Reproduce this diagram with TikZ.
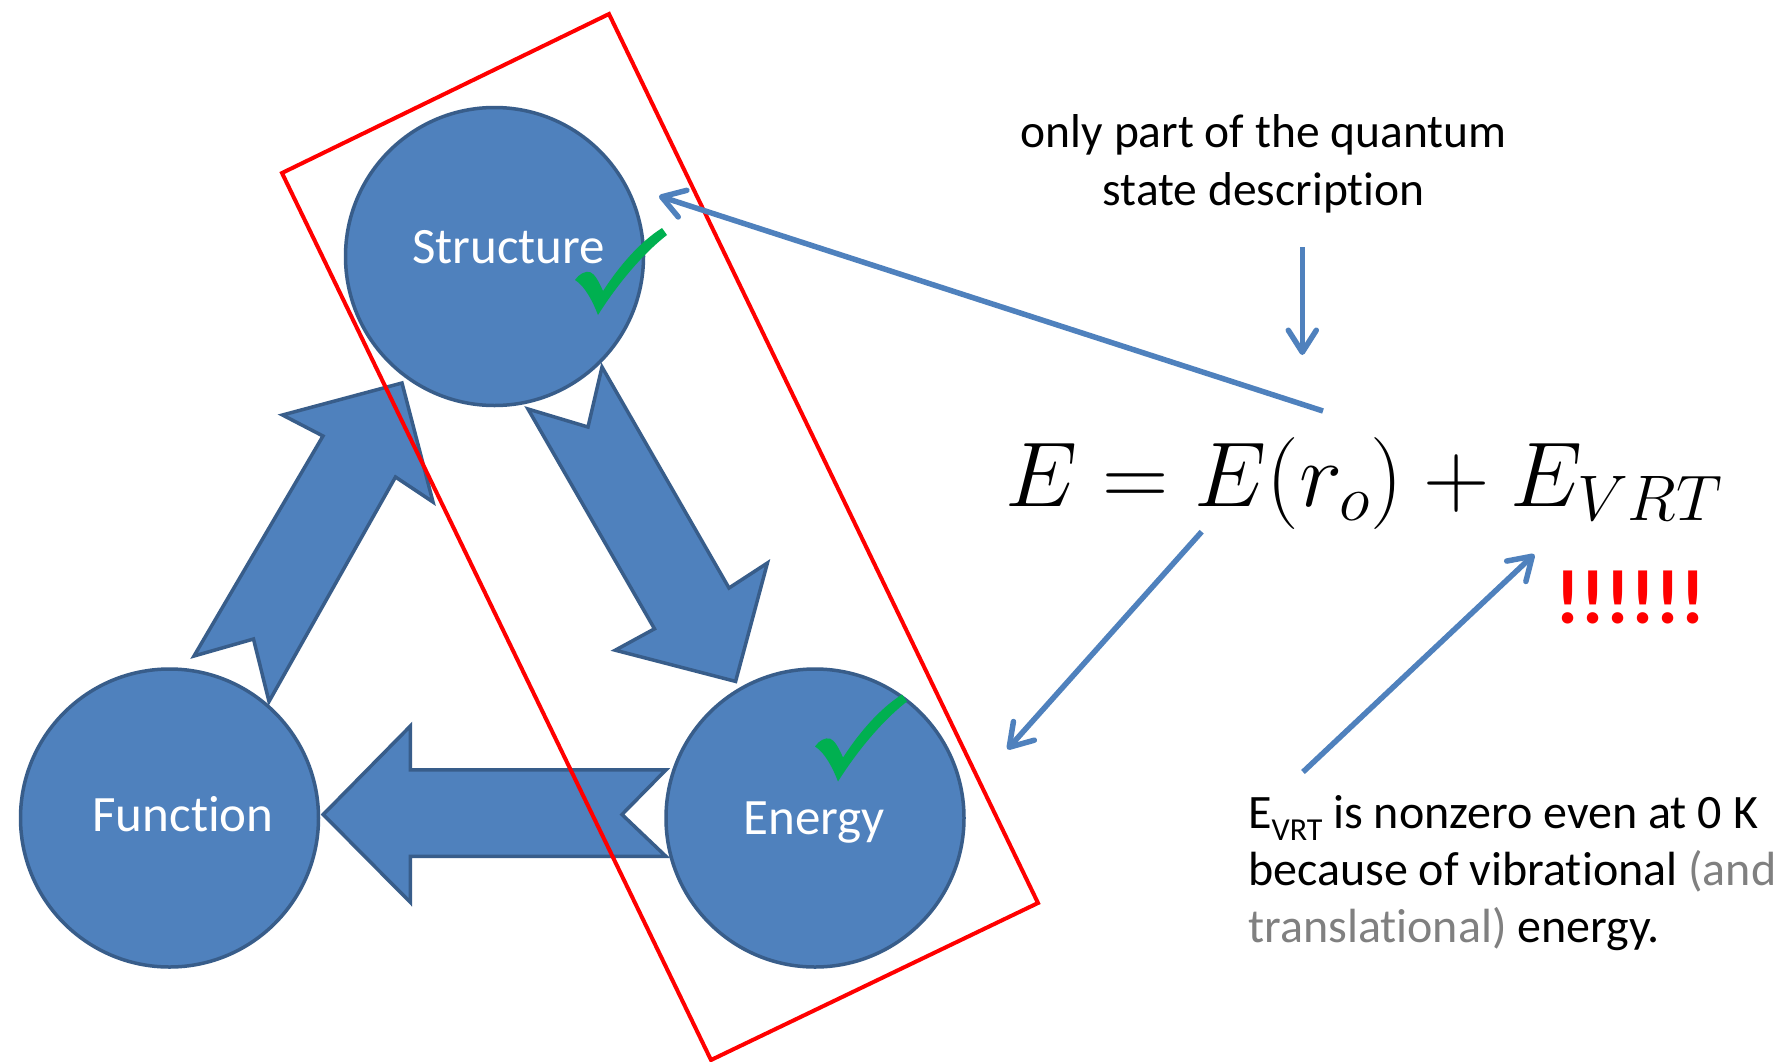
\documentclass[tikz,border=0pt]{standalone}
\usepackage{fix-cm}
\usepackage{fontspec}
\newfontfamily\carl[Ligatures=NoCommon]{Carlito}
\usetikzlibrary{arrows.meta}
\definecolor{fillblue}{HTML}{4F81BD}
\definecolor{edgeblue}{HTML}{385D8A}
\definecolor{chk}{HTML}{00B050}
\definecolor{grtext}{HTML}{808080}
\tikzset{
  circ/.style={circle, fill=fillblue, draw=edgeblue, line width=3.5pt, minimum size=298pt, inner sep=0pt},
  lbl/.style={font=\carl\fontsize{51}{61}\selectfont, text=white, anchor=base, inner sep=0pt},
  blk/.style={fill=fillblue, draw=edgeblue, line width=3.5pt, line join=miter},
  frame/.style={draw=red, line width=4pt, line join=miter},
  ptr/.style={draw=fillblue, line width=5.5pt, -{Straight Barb[length=22pt,width=28pt,round]}},
  txt/.style={font=\carl\fontsize{48}{57}\selectfont, anchor=base west, inner sep=0pt},
  toptxt/.style={font=\carl\fontsize{47.5}{57}\selectfont, anchor=base, inner sep=0pt},
  checkmk/.pic={\fill[chk] (0,0) .. controls (4,-6) and (10,-9) .. (15,-8)
      .. controls (20,-6) and (24,2) .. (28,11)
      .. controls (45,-15) and (65,-38) .. (87,-52) -- (92,-45)
      .. controls (65,-24) and (40,8) .. (23,35)
      .. controls (18,22) and (10,6) .. (0,0) -- cycle;}
}
\begin{document}
\begin{tikzpicture}[x=1pt,y=-1pt]
\useasboundingbox (0,0) rectangle (1781,1061);
\fill[white] (0,0) rectangle (1781,1061);
% block arrows
\filldraw[blk] (194,656) -- (253.5,639) -- (269,701.5) -- (395.5,477) -- (433,502)
  -- (402,383) -- (282.5,415) -- (323,436) -- cycle;
\filldraw[blk] (528,409) -- (588,427) -- (602,367) -- (729,588) -- (767.4,563)
  -- (735.6,681.4) -- (615.3,650.2) -- (654.5,628.8) -- cycle;
\filldraw[blk] (666,769.8) -- (622,814.5) -- (666,856.4) -- (410.4,856.4) -- (410.4,902.4)
  -- (323.2,814.5) -- (410.4,726) -- (410.4,769.8) -- cycle;
% circles
\node[circ] (S) at (494.5,256.5) {};
\node[circ] (F) at (169.5,818) {};
\node[circ] (E) at (815,818) {};
\node[lbl] (St) at (508.7,263.6) {Structure};
\node[lbl] (Ft) at (183,831) {Function};
\node[lbl] (Et) at (814,834) {Energy};
% check marks
\pic at (575,280) {checkmk};
\pic at (815,746.5) {checkmk};
% red frame
\draw[frame] (282,173) -- (609,14) -- (1038,903) -- (711,1060) -- cycle;
% texts
\node[toptxt] (q1) at (1263.7,147.9) {only part of the quantum};
\node[toptxt] (q2) at (1263.7,205.7) {state description};
\node[anchor=base west, inner sep=0pt, font=\fontsize{92}{110}\selectfont] (eq) at (1005,506.7)
  {$E = E(r_o) + E_{VRT}$};
\node[anchor=base west, inner sep=0pt, text=red, font=\carl\bfseries\fontsize{77}{90}\selectfont] (ex) at (1555,623.3) {!!!!!!};
\node[txt] (b1) at (1248,828.3) {E\raisebox{-12pt}{\fontsize{32}{32}\selectfont VRT} is nonzero even at 0 K};
\node[txt] (b2) at (1248,885) {because of vibrational \textcolor{grtext}{(and}};
\node[txt] (b3) at (1248,942.7) {\textcolor{grtext}{translational)} energy.};
% thin arrows
\coordinate (a1s) at (1323,411);
\coordinate (a1e) at (659,196);
\coordinate (a2s) at (1302.3,247);
\coordinate (a2e) at (1302.3,355);
\coordinate (a3s) at (1201.7,531.7);
\coordinate (a3e) at (1007.4,749.3);
\coordinate (a4s) at (1303,772);
\coordinate (a4e) at (1534.3,554.3);
\draw[ptr] (a1s) -- (a1e);
\draw[ptr] (a2s) -- (a2e);
\draw[ptr] (a3s) -- (a3e);
\draw[ptr] (a4s) -- (a4e);
\end{tikzpicture}
\end{document}
